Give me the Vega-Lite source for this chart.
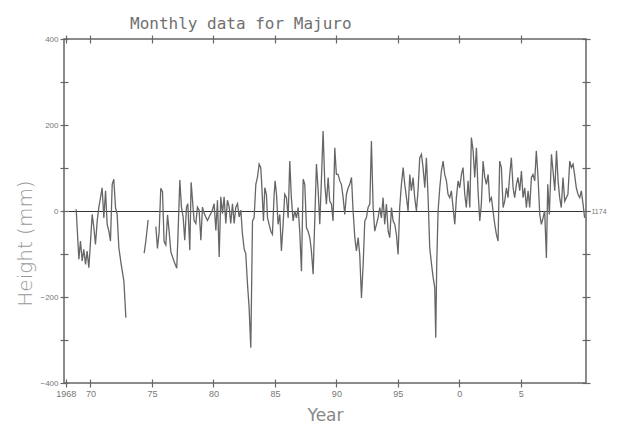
{
  "$schema": "https://vega.github.io/schema/vega-lite/v6.json",
  "width": 522,
  "height": 344,
  "autosize": {"type": "none"},
  "padding": {"left": 64, "top": 39, "right": 32, "bottom": 48},
  "background": "#ffffff",
  "title": {"text": "Monthly data for Majuro", "anchor": "start", "frame": "group", "dx": 66, "offset": 2, "font": "DejaVu Sans Mono", "fontSize": 16, "fontWeight": "normal", "color": "#707070"},
  "config": {
    "view": {"stroke": "#666666", "strokeWidth": 1.5},
    "axis": {"domain": false, "tickColor": "#666666", "tickWidth": 1.2, "tickSize": 8, "offset": -4, "labelFont": "Liberation Sans", "labelColor": "#777777", "labelFontSize": 8, "grid": false}
  },
  "data": {"values": [
    {"year":1968.84,"height":4},{"year":1968.98,"height":-70},{"year":1969.06,"height":-112},{"year":1969.19,"height":-70},{"year":1969.33,"height":-116},{"year":1969.46,"height":-89},{"year":1969.60,"height":-124},{"year":1969.73,"height":-93},{"year":1969.87,"height":-132},{"year":1970.01,"height":-70},{"year":1970.14,"height":-8},{"year":1970.28,"height":-39},{"year":1970.41,"height":-78},{"year":1970.55,"height":-23},{"year":1970.68,"height":8},{"year":1970.82,"height":31},{"year":1970.95,"height":54},{"year":1971.09,"height":-16},{"year":1971.23,"height":47},{"year":1971.36,"height":-31},{"year":1971.50,"height":-47},{"year":1971.63,"height":-70},{"year":1971.77,"height":62},{"year":1971.90,"height":74},{"year":1972.04,"height":8},{"year":1972.17,"height":-8},{"year":1972.31,"height":-85},{"year":1972.50,"height":-124},{"year":1972.72,"height":-163},{"year":1972.88,"height":-248},
    {"year":1973.50,"height":null},
    {"year":1974.37,"height":-98},{"year":1974.50,"height":-71},{"year":1974.69,"height":-21},
    {"year":1975.00,"height":null},
    {"year":1975.32,"height":-36},{"year":1975.45,"height":-87},{"year":1975.59,"height":-48},{"year":1975.72,"height":53},{"year":1975.86,"height":45},{"year":1975.99,"height":-71},{"year":1976.13,"height":-79},{"year":1976.27,"height":-9},{"year":1976.40,"height":-48},{"year":1976.54,"height":-95},{"year":1976.81,"height":-118},{"year":1977.02,"height":-133},{"year":1977.13,"height":-48},{"year":1977.27,"height":72},{"year":1977.40,"height":9},{"year":1977.54,"height":-14},{"year":1977.67,"height":-68},{"year":1977.81,"height":9},{"year":1977.92,"height":17},{"year":1978.08,"height":-91},{"year":1978.19,"height":67},{"year":1978.30,"height":25},{"year":1978.43,"height":-22},{"year":1978.57,"height":-29},{"year":1978.70,"height":9},{"year":1978.84,"height":2},{"year":1978.98,"height":-68},{"year":1979.11,"height":9},{"year":1979.25,"height":-6},{"year":1979.38,"height":-14},{"year":1979.52,"height":-22},{"year":1979.65,"height":-14},{"year":1979.79,"height":-6},{"year":1979.92,"height":2},{"year":1980.06,"height":17},{"year":1980.20,"height":-45},{"year":1980.33,"height":25},{"year":1980.47,"height":-107},{"year":1980.60,"height":33},{"year":1980.74,"height":-6},{"year":1980.87,"height":33},{"year":1981.01,"height":-29},{"year":1981.14,"height":25},{"year":1981.28,"height":9},{"year":1981.41,"height":-29},{"year":1981.55,"height":17},{"year":1981.69,"height":-29},{"year":1981.82,"height":9},{"year":1981.96,"height":17},{"year":1982.09,"height":-14},{"year":1982.23,"height":2},{"year":1982.36,"height":-53},{"year":1982.50,"height":-88},{"year":1982.63,"height":-99},{"year":1982.77,"height":-169},{"year":1982.90,"height":-223},{"year":1983.04,"height":-318},
    {"year":1983.18,"height":-23},{"year":1983.31,"height":-16},{"year":1983.45,"height":62},{"year":1983.58,"height":78},{"year":1983.72,"height":109},{"year":1983.85,"height":101},{"year":1983.93,"height":62},{"year":1984.07,"height":-23},{"year":1984.18,"height":54},{"year":1984.31,"height":39},{"year":1984.40,"height":-16},{"year":1984.53,"height":-31},{"year":1984.67,"height":-47},{"year":1984.80,"height":-54},{"year":1984.94,"height":39},{"year":1985.02,"height":70},{"year":1985.13,"height":39},{"year":1985.26,"height":-31},{"year":1985.40,"height":-8},{"year":1985.53,"height":-93},{"year":1985.67,"height":-31},{"year":1985.80,"height":39},{"year":1985.94,"height":31},{"year":1986.08,"height":-16},{"year":1986.21,"height":116},{"year":1986.34,"height":31},{"year":1986.48,"height":-23},{"year":1986.62,"height":0},{"year":1986.75,"height":-16},{"year":1986.89,"height":8},{"year":1987.02,"height":-47},{"year":1987.16,"height":-140},{"year":1987.30,"height":74},{"year":1987.43,"height":62},{"year":1987.57,"height":-39},{"year":1987.70,"height":-47},{"year":1987.84,"height":-62},{"year":1987.97,"height":-93},{"year":1988.11,"height":-147},{"year":1988.24,"height":-23},{"year":1988.38,"height":109},{"year":1988.52,"height":47},{"year":1988.65,"height":-31},{"year":1988.79,"height":78},{"year":1988.92,"height":186},{"year":1989.06,"height":62},{"year":1989.19,"height":16},{"year":1989.33,"height":78},{"year":1989.46,"height":23},{"year":1989.60,"height":16},{"year":1989.73,"height":-23},{"year":1989.87,"height":147},{"year":1990.00,"height":85},{"year":1990.14,"height":85},{"year":1990.28,"height":70},{"year":1990.41,"height":62},{"year":1990.55,"height":31},{"year":1990.68,"height":-8},{"year":1990.82,"height":39},{"year":1990.96,"height":54},{"year":1991.09,"height":62},{"year":1991.23,"height":78},{"year":1991.36,"height":0},{"year":1991.50,"height":-62},{"year":1991.63,"height":-93},{"year":1991.77,"height":-62},{"year":1991.90,"height":-101},{"year":1992.04,"height":-202},{"year":1992.18,"height":-124},{"year":1992.31,"height":-23},{"year":1992.44,"height":-16},{"year":1992.58,"height":8},{"year":1992.72,"height":16},{"year":1992.85,"height":163},{"year":1992.99,"height":8},{"year":1993.12,"height":-47},{"year":1993.26,"height":-31},{"year":1993.39,"height":-16},{"year":1993.53,"height":8},{"year":1993.66,"height":-16},{"year":1993.80,"height":31},{"year":1993.93,"height":-31},{"year":1994.07,"height":16},{"year":1994.21,"height":-47},{"year":1994.34,"height":-62},{"year":1994.48,"height":8},{"year":1994.61,"height":-23},{"year":1994.75,"height":-31},{"year":1994.88,"height":-54},{"year":1995.02,"height":-101},{"year":1995.15,"height":8},{"year":1995.29,"height":62},{"year":1995.43,"height":101},{"year":1995.56,"height":62},{"year":1995.70,"height":31},{"year":1995.83,"height":0},{"year":1995.97,"height":85},{"year":1996.10,"height":47},{"year":1996.24,"height":78},{"year":1996.37,"height":31},{"year":1996.51,"height":0},{"year":1996.64,"height":47},{"year":1996.78,"height":124},{"year":1996.92,"height":132},{"year":1997.05,"height":101},{"year":1997.19,"height":54},{"year":1997.32,"height":124},{"year":1997.46,"height":31},{"year":1997.59,"height":-85},{"year":1997.74,"height":-124},{"year":1997.87,"height":-155},{"year":1998.00,"height":-178},{"year":1998.08,"height":-295},{"year":1998.16,"height":-124},
    {"year":1998.27,"height":0},{"year":1998.41,"height":54},{"year":1998.54,"height":93},{"year":1998.68,"height":116},{"year":1998.81,"height":85},{"year":1998.95,"height":70},{"year":1999.08,"height":39},{"year":1999.22,"height":31},{"year":1999.35,"height":47},{"year":1999.49,"height":8},{"year":1999.63,"height":-31},{"year":1999.76,"height":31},{"year":1999.90,"height":70},{"year":2000.03,"height":54},{"year":2000.17,"height":85},{"year":2000.30,"height":101},{"year":2000.44,"height":39},{"year":2000.57,"height":8},{"year":2000.71,"height":70},{"year":2000.85,"height":8},{"year":2000.98,"height":171},{"year":2001.12,"height":140},{"year":2001.25,"height":78},{"year":2001.39,"height":147},{"year":2001.52,"height":47},{"year":2001.66,"height":-23},{"year":2001.79,"height":16},{"year":2001.93,"height":116},{"year":2002.07,"height":78},{"year":2002.20,"height":62},{"year":2002.34,"height":85},{"year":2002.47,"height":23},{"year":2002.61,"height":31},{"year":2002.74,"height":0},{"year":2002.88,"height":-31},{"year":2003.01,"height":-54},{"year":2003.15,"height":-70},{"year":2003.28,"height":116},{"year":2003.42,"height":101},{"year":2003.56,"height":8},{"year":2003.69,"height":23},{"year":2003.83,"height":54},{"year":2003.96,"height":31},{"year":2004.10,"height":85},{"year":2004.23,"height":124},{"year":2004.37,"height":54},{"year":2004.50,"height":31},{"year":2004.64,"height":62},{"year":2004.77,"height":78},{"year":2004.91,"height":47},{"year":2005.05,"height":93},{"year":2005.18,"height":31},{"year":2005.32,"height":54},{"year":2005.45,"height":8},{"year":2005.59,"height":47},{"year":2005.72,"height":8},{"year":2005.86,"height":78},{"year":2005.99,"height":85},{"year":2006.13,"height":70},{"year":2006.26,"height":140},{"year":2006.40,"height":78},{"year":2006.54,"height":-8},{"year":2006.67,"height":-31},{"year":2006.81,"height":-16},{"year":2006.94,"height":0},{"year":2007.08,"height":-109},{"year":2007.19,"height":62},{"year":2007.32,"height":-8},{"year":2007.49,"height":132},{"year":2007.62,"height":93},{"year":2007.76,"height":47},{"year":2007.90,"height":140},{"year":2008.03,"height":70},{"year":2008.16,"height":31},{"year":2008.29,"height":8},{"year":2008.43,"height":78},{"year":2008.57,"height":23},{"year":2008.70,"height":31},{"year":2008.83,"height":39},{"year":2008.98,"height":116},{"year":2009.11,"height":101},{"year":2009.25,"height":109},{"year":2009.37,"height":85},{"year":2009.51,"height":54},{"year":2009.65,"height":39},{"year":2009.79,"height":31},{"year":2009.92,"height":47},{"year":2010.06,"height":16},{"year":2010.19,"height":-16}
  ]},
  "layer": [
    {
      "mark": {"type": "line", "color": "#666666", "strokeWidth": 1.3, "invalid": "break-paths-filter-domains", "clip": true},
      "encoding": {
        "x": {"field": "year", "type": "quantitative",
          "scale": {"domain": [1967.85, 2010.3], "nice": false, "zero": false},
          "axis": {"orient": "bottom", "values": [1968, 1970, 1975, 1980, 1985, 1990, 1995, 2000, 2005],
            "labelExpr": "datum.value == 1968 ? '1968' : format(datum.value % 100, 'd')",
            "labelFontSize": 9, "labelPadding": 2, "labelFlush": false,
            "title": "Year", "titleFont": "DejaVu Sans", "titleFontSize": 17, "titleFontWeight": "normal", "titleColor": "#888888", "titlePadding": 9}},
        "y": {"field": "height", "type": "quantitative",
          "scale": {"domain": [-400, 400], "nice": false},
          "axis": {"orient": "left", "values": [-400, -300, -200, -100, 0, 100, 200, 300, 400],
            "labelExpr": "datum.value % 200 === 0 ? datum.label : ''",
            "labelPadding": 2, "labelFlush": false,
            "grid": true, "gridColor": "#333333", "gridWidth": 1,
            "gridOpacity": {"condition": {"test": "datum.value === 0", "value": 1}, "value": 0},
            "title": "Height (mm)", "titleFont": "DejaVu Sans", "titleFontSize": 20, "titleFontWeight": 200, "titleColor": "#999999", "titlePadding": 4, "titleY": 204}}
      }
    },
    {
      "mark": {"type": "line", "strokeOpacity": 0, "invalid": "break-paths-filter-domains"},
      "encoding": {
        "x": {"field": "year", "type": "quantitative",
          "axis": {"orient": "top", "values": [1968, 1970, 1975, 1980, 1985, 1990, 1995, 2000, 2005], "labels": false, "title": null}},
        "y": {"field": "height", "type": "quantitative",
          "axis": {"orient": "right", "values": [-400, -300, -200, -100, 0, 100, 200, 300, 400],
            "labelExpr": "datum.value === 0 ? '1174' : ''", "labelFontSize": 7, "labelPadding": 1, "labelFlush": false, "title": null}}
      }
    }
  ],
  "resolve": {"axis": {"x": "independent", "y": "independent"}}
}
